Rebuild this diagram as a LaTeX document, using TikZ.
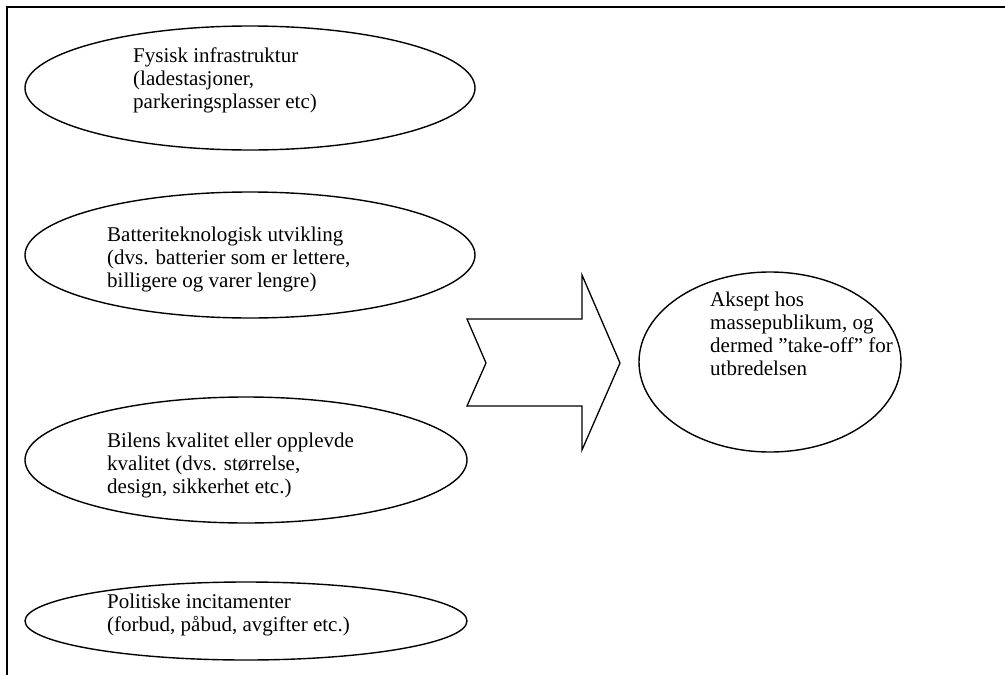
\documentclass[tikz,border=0pt]{standalone}
\usepackage{fontspec}
\setmainfont{Liberation Serif}
\usetikzlibrary{shapes.geometric}
\begin{document}
\begin{tikzpicture}[x=1pt,y=-1pt,
  factor/.style={draw, ellipse, line width=1.4pt, inner sep=0pt},
  txt/.style={anchor=west, align=left, inner sep=0pt,
    font=\fontsize{21}{23}\selectfont},
  frameline/.style={line width=2pt},
  bigarrow/.style={draw, line width=1.3pt, line join=miter}]
\useasboundingbox (0,0) rectangle (1005,675);

% open frame: top and left edges only
\draw[frameline] (7,675) -- (7,7) -- (1006,7);

% driving factors
\node[factor, minimum width=450pt, minimum height=124pt] (e1) at (250,88) {};
\node[txt] (t1) at (133,80) {Fysisk infrastruktur\\(ladestasjoner,\\parkeringsplasser etc)};

\node[factor, minimum width=450pt, minimum height=126pt] (e2) at (250,255) {};
\node[txt] (t2) at (107,259) {Batteriteknologisk utvikling\\(dvs. batterier som er lettere,\\billigere og varer lengre)};

\node[factor, minimum width=442pt, minimum height=126pt] (e3) at (246,460) {};
\node[txt] (t3) at (107,465) {Bilens kvalitet eller opplevde\\kvalitet (dvs. størrelse,\\design, sikkerhet etc.)};

\node[factor, minimum width=442pt, minimum height=78pt] (e4) at (246,621) {};
\node[txt] (t4) at (107,615) {Politiske incitamenter\\(forbud, påbud, avgifter etc.)};

% notched block arrow
\draw[bigarrow] (467,319) -- (582,319) -- (582,275) -- (620,363)
  -- (582,450) -- (582,406) -- (467,406) -- (486,363) -- cycle;

% outcome
\node[factor, minimum width=262pt, minimum height=180pt] (res) at (770,362) {};
\node[txt] (tr) at (710,334) {Aksept hos\\massepublikum, og\\dermed ”take-off” for\\utbredelsen};
\end{tikzpicture}
\end{document}
